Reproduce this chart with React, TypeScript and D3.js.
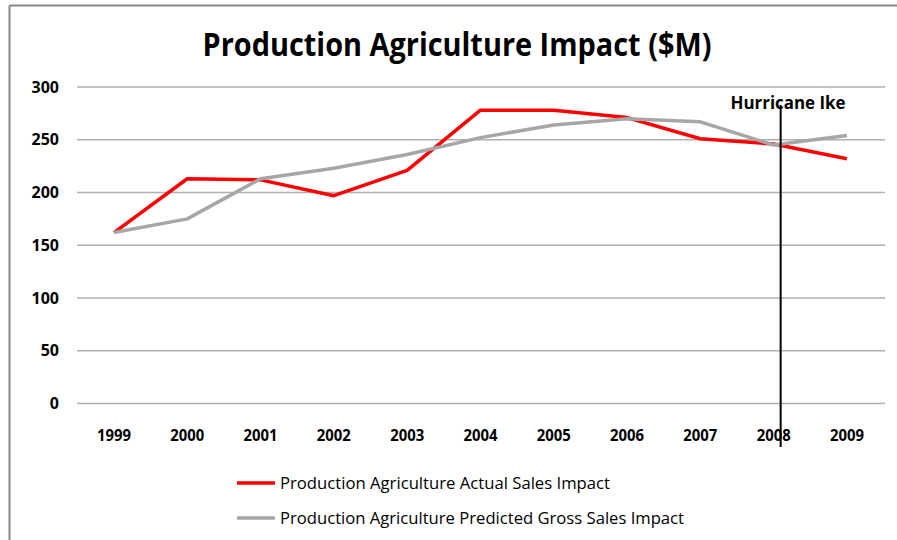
import React from "react";
import * as d3 from "d3";

const years = ["1999", "2000", "2001", "2002", "2003", "2004", "2005", "2006", "2007", "2008", "2009"];
const actualSales = [162, 213, 212, 197, 221, 278, 278, 271, 251, 246, 232];
const predictedSales = [162, 175, 213, 223, 236, 252, 264, 270, 267, 245, 254];
const yTicks = [0, 50, 100, 150, 200, 250, 300];
const seriesNames = ["Production Agriculture Actual Sales Impact", "Production Agriculture Predicted Gross Sales Impact"];
const seriesColors = ["#ff0000", "#a6a6a6"];
const eventYear = "2008";
const eventLabel = "Hurricane Ike";
const title = "Production Agriculture Impact ($M)";

const W = 897;
const H = 540;
const FONT = "'Open Sans', 'Noto Sans', sans-serif";

export default function App() {
  const x = d3.scalePoint<string>().domain(years).range([77.3, 883.6]).padding(0.5);
  const y = d3.scaleLinear().domain([0, 300]).range([403.5, 87]);
  const line = d3
    .line<number>()
    .x((_, i) => x(years[i]) as number)
    .y((d) => y(d));
  const series = [actualSales, predictedSales];
  const ex = (x(eventYear) as number) + 7;

  return (
    <svg width={W} height={H} style={{ position: "absolute", left: 0, top: 0, background: "#fff" }}>
      <rect x={0} y={0} width={W} height={H} fill="#fff" />
      <line x1={9.5} y1={5.5} x2={W} y2={5.5} stroke="#888" strokeWidth={2} />
      <line x1={9.5} y1={5.5} x2={9.5} y2={H} stroke="#888" strokeWidth={2} />
      <text x={457} y={56} textAnchor="middle" fontFamily={FONT} fontWeight="bold" fontSize={33} textLength={509} lengthAdjust="spacingAndGlyphs" fill="#000">
        {title}
      </text>
      {yTicks.map((t) => (
        <g key={t}>
          <line x1={77} x2={885} y1={y(t)} y2={y(t)} stroke="#b0b0b0" strokeWidth={1.5} />
          <text x={59} y={y(t) + 5.5} textAnchor="end" fontFamily={FONT} fontWeight="bold" fontSize={16} fill="#000">
            {t}
          </text>
        </g>
      ))}
      {years.map((yr) => (
        <text key={yr} x={x(yr) as number} y={441} textAnchor="middle" fontFamily={FONT} fontWeight="bold" fontSize={16} textLength={34} lengthAdjust="spacingAndGlyphs" fill="#000">
          {yr}
        </text>
      ))}
      {series.map((s, i) => (
        <path key={i} d={line(s) as string} fill="none" stroke={seriesColors[i]} strokeWidth={3.5} strokeLinejoin="round" />
      ))}
      <line x1={ex} x2={ex} y1={105} y2={447} stroke="#000" strokeWidth={2} />
      <text x={788} y={109} textAnchor="middle" fontFamily={FONT} fontWeight="bold" fontSize={17} textLength={115} lengthAdjust="spacingAndGlyphs" fill="#000">
        {eventLabel}
      </text>
      {seriesNames.map((n, i) => (
        <g key={n}>
          <line x1={237} x2={275} y1={483 + i * 35} y2={483 + i * 35} stroke={seriesColors[i]} strokeWidth={3.5} />
          <text x={280} y={489 + i * 35} fontFamily={FONT} fontSize={16} textLength={i === 0 ? 330 : 404} lengthAdjust="spacingAndGlyphs" fill="#000">
            {n}
          </text>
        </g>
      ))}
    </svg>
  );
}
